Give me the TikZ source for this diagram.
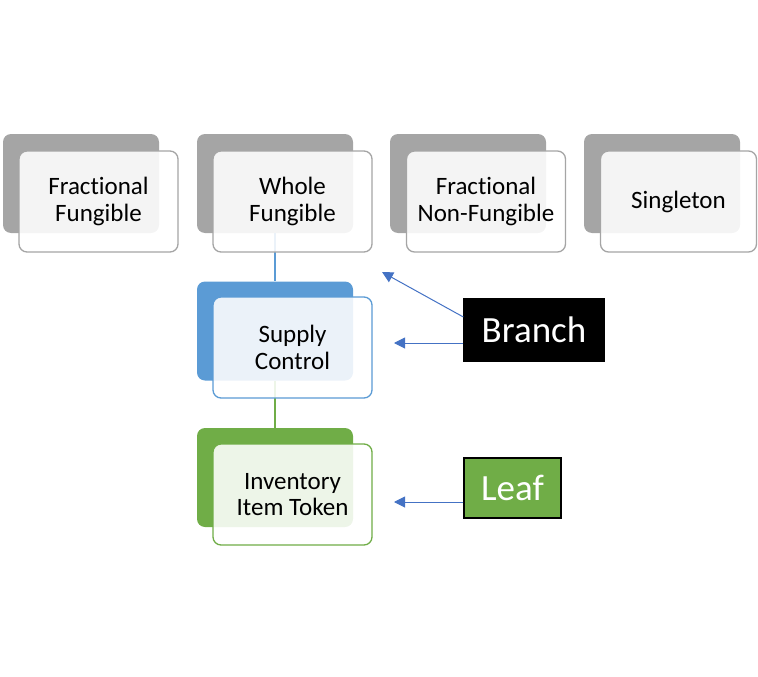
\documentclass[tikz,border=0pt]{standalone}
\usepackage{fontspec}
\setmainfont{Carlito}[Ligatures={NoCommon,NoContextual}]
\usetikzlibrary{arrows.meta}
\definecolor{greyback}{HTML}{A5A5A5}
\definecolor{blueback}{HTML}{5B9BD5}
\definecolor{greenback}{HTML}{70AD47}
\definecolor{arrowblue}{HTML}{4472C4}
\tikzset{
  backbox/.style={draw=none, fill=#1, rounded corners=8pt, minimum width=156pt, minimum height=99pt, inner sep=0pt},
  frontbox/.style={draw=#1, line width=1.3pt, fill=white, fill opacity=0.88, text opacity=1, rounded corners=8pt, minimum width=159pt, minimum height=101pt, inner sep=0pt, align=center, font=\fontsize{25}{26.5}\selectfont},
  tagbox/.style={fill=#1, draw=black, line width=1.3pt, inner sep=0pt, text=white, font=\fontsize{37}{40}\selectfont},
  pointer/.style={draw=arrowblue, line width=1pt, -{Triangle[length=11pt,width=11pt]}},
  link/.style={draw=#1, line width=1.3pt}
}
\begin{document}
\begin{tikzpicture}[x=1pt,y=-1pt]
\useasboundingbox (0,0) rectangle (758,677);
% back boxes
\node[backbox=greyback] (b1) at (81,183.5) {};
\node[backbox=greyback] (b2) at (275,183.5) {};
\node[backbox=greyback] (b3) at (468,183.5) {};
\node[backbox=greyback] (b4) at (662,183.5) {};
\node[backbox=blueback] (sb) at (275,331) {};
\node[backbox=greenback] (ib) at (275,477.5) {};
% links
\draw[link=blueback] (b2.south) -- (sb.north);
\draw[link=greenback] (sb.south) -- (ib.north);
% front boxes
\node[frontbox=greyback] (f1) at (98.5,201.5) {Fractional\\Fungible};
\node[frontbox=greyback] (f2) at (292.5,201.5) {Whole\\Fungible};
\node[frontbox=greyback] (f3) at (486,201.5) {Fractional\\Non-Fungible};
\node[frontbox=greyback, minimum width=156pt] (f4) at (678.5,201.5) {Singleton};
\node[frontbox=blueback] (sf) at (292.5,347.5) {Supply\\Control};
\node[frontbox=greenback] (iff) at (292.5,494.5) {Inventory\\Item Token};
% tags
\node[tagbox=black, minimum width=140pt, minimum height=62pt] (branch) at (534,330) {Branch};
\node[tagbox=greenback, minimum width=97pt, minimum height=60pt] (leaf) at (512.5,488) {Leaf};
% arrow ends
\coordinate (e1) at (382,272);
\coordinate (e2) at (394,343);
\coordinate (e3) at (394,502);
\draw[pointer] ([yshift=13pt]branch.west) -- (e1);
\draw[pointer] ([yshift=-13pt]branch.west) -- (e2);
\draw[pointer] ([yshift=-14pt]leaf.west) -- (e3);
\end{tikzpicture}
\end{document}
